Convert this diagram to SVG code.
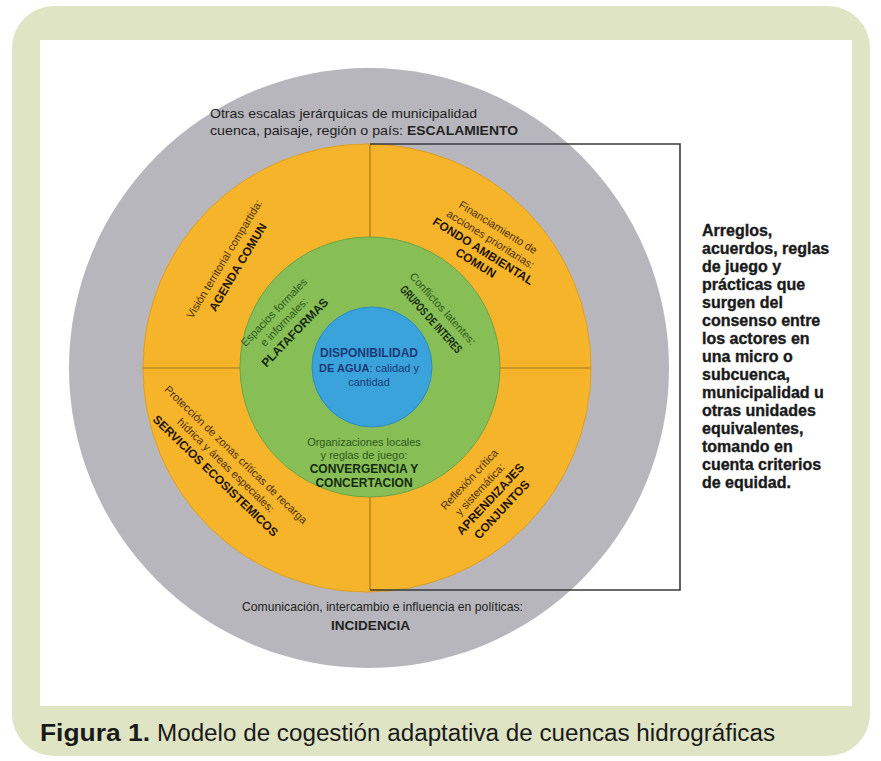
<svg xmlns="http://www.w3.org/2000/svg" width="881" height="761" viewBox="0 0 881 761">
<style>
.reg{font-family:"Liberation Sans","Arial",sans-serif;font-size:11px;}
.bld{font-family:"Liberation Sans","Arial",sans-serif;font-size:12px;font-weight:bold;}
.or{fill:#4a300a;}
.orb{fill:#1e1405;}
.gr{fill:#2c5a1c;}
.grb{fill:#142a10;}
.bl{fill:#1b3a75;}
.side{font-family:"Liberation Sans","Arial",sans-serif;font-size:16px;font-weight:bold;fill:#1a1a1a;stroke:#1a1a1a;stroke-width:0.35;}
.gt{font-family:"Liberation Sans","Arial",sans-serif;font-size:13px;fill:#222;}
.cap{font-family:"Liberation Sans Narrow","Liberation Sans","Arial",sans-serif;font-size:23px;fill:#1a1a1a;}
</style>
<rect x="12" y="6" width="858" height="750" rx="42" fill="#dfe5c4"/>
<rect x="40" y="40" width="812" height="666" fill="#ffffff"/>

<g id="ring-gray"><circle cx="369" cy="368" r="300" fill="#b6b6bc"/></g>
<g id="ring-orange"><circle cx="367" cy="368" r="224" fill="#f6b42b" stroke="#dca026" stroke-width="1"/></g>

<g id="connectors" fill="none">
<line x1="143" y1="368" x2="591" y2="368" stroke="#a8761c" stroke-width="1.2"/>
<line x1="370" y1="145" x2="370" y2="590" stroke="#a8761c" stroke-width="1.2"/>
</g>

<g id="ring-green"><circle cx="370" cy="367" r="130" fill="#88be56" stroke="#6da443" stroke-width="1"/></g>
<g id="core-blue"><circle cx="372" cy="367" r="60" fill="#3aa3dc" stroke="#2f8cc0" stroke-width="1"/></g>

<g id="bracket"><path d="M370 144 H680 V590 H370" fill="none" stroke="#3a3a3a" stroke-width="1.6"/></g>

<g id="label-escalamiento">
<text class="gt" x="210" y="118" textLength="267" lengthAdjust="spacingAndGlyphs">Otras escalas jerárquicas de municipalidad</text>
<text class="gt" x="210" y="135" textLength="193" lengthAdjust="spacingAndGlyphs">cuenca, paisaje, región o país:</text>
<text class="gt" x="407" y="135" font-weight="bold" textLength="111" lengthAdjust="spacingAndGlyphs">ESCALAMIENTO</text>
</g>

<g id="label-incidencia">
<text class="gt" x="242" y="611" textLength="281" lengthAdjust="spacingAndGlyphs">Comunicación, intercambio e influencia en políticas:</text>
<text class="gt" x="331" y="630" font-weight="bold" textLength="79" lengthAdjust="spacingAndGlyphs">INCIDENCIA</text>
</g>

<g id="q-agenda" transform="translate(231,263) rotate(-59)" text-anchor="middle">
<text class="reg or" x="0" y="-4">Visión territorial compartida:</text>
<text class="bld orb" x="0" y="12">AGENDA COMUN</text>
</g>

<g id="q-fondo" transform="translate(487,245) rotate(32)" text-anchor="middle">
<text class="reg or" x="0" y="-17">Financiamiento de</text>
<text class="reg or" x="0" y="-3">acciones prioritarias:</text>
<text class="bld orb" x="0" y="11.3">FONDO AMBIENTAL</text>
<text class="bld orb" x="0" y="25.3">COMUN</text>
</g>

<g id="q-servicios" transform="translate(226,465) rotate(44)" text-anchor="middle">
<text class="reg or" x="0" y="-10.5">Protección de zonas críticas de recarga</text>
<text class="reg or" x="0" y="4">hídrica y áreas especiales:</text>
<text class="bld orb" x="0" y="19.3">SERVICIOS ECOSISTEMICOS</text>
</g>

<g id="q-aprendizajes" transform="translate(485,494) rotate(-47)" text-anchor="middle">
<text class="reg or" x="0" y="-17.7">Reflexión crítica</text>
<text class="reg or" x="0" y="-3.2">y sistemática:</text>
<text class="bld orb" x="0" y="11.5">APRENDIZAJES</text>
<text class="bld orb" x="0" y="27">CONJUNTOS</text>
</g>

<g id="g-plataformas" transform="translate(284,322) rotate(-46)" text-anchor="middle">
<text class="reg gr" x="0" y="-10.3">Espacios formales</text>
<text class="reg gr" x="0" y="3.8">e informales:</text>
<text class="bld grb" x="0" y="19.2">PLATAFORMAS</text>
</g>

<g id="g-grupos" transform="translate(437,314) rotate(48)" text-anchor="middle">
<text class="reg gr" x="0" y="-4">Conflictos latentes:</text>
<text class="bld grb" x="0" y="12" font-size="10" textLength="86" lengthAdjust="spacingAndGlyphs">GRUPOS DE INTERES</text>
</g>

<g id="g-convergencia" text-anchor="middle">
<text class="reg gr" x="364" y="446" font-size="12">Organizaciones locales</text>
<text class="reg gr" x="364" y="459" font-size="12">y reglas de juego:</text>
<text class="bld grb" x="364" y="473">CONVERGENCIA Y</text>
<text class="bld grb" x="364" y="487">CONCERTACION</text>
</g>

<g id="core-text" text-anchor="middle">
<text class="bld bl" x="369" y="357" font-size="12">DISPONIBILIDAD</text>
<text class="reg bl" x="369" y="372" font-size="11.5"><tspan font-weight="bold">DE AGUA</tspan>: calidad y</text>
<text class="reg bl" x="369" y="386" font-size="11.5">cantidad</text>
</g>

<g id="side-note">
<text class="side" x="702" y="236">Arreglos,</text>
<text class="side" x="702" y="254">acuerdos, reglas</text>
<text class="side" x="702" y="272">de juego y</text>
<text class="side" x="702" y="290">prácticas que</text>
<text class="side" x="702" y="308">surgen del</text>
<text class="side" x="702" y="326">consenso entre</text>
<text class="side" x="702" y="344">los actores en</text>
<text class="side" x="702" y="362">una micro o</text>
<text class="side" x="702" y="380">subcuenca,</text>
<text class="side" x="702" y="398">municipalidad u</text>
<text class="side" x="702" y="416">otras unidades</text>
<text class="side" x="702" y="434">equivalentes,</text>
<text class="side" x="702" y="452">tomando en</text>
<text class="side" x="702" y="470">cuenta criterios</text>
<text class="side" x="702" y="488">de equidad.</text>
</g>

<g id="caption">
<text class="cap" x="40" y="741" font-weight="bold" textLength="110" lengthAdjust="spacingAndGlyphs">Figura 1.</text>
<text class="cap" x="157" y="741" textLength="618" lengthAdjust="spacingAndGlyphs">Modelo de cogestión adaptativa de cuencas hidrográficas</text>
</g>
</svg>
